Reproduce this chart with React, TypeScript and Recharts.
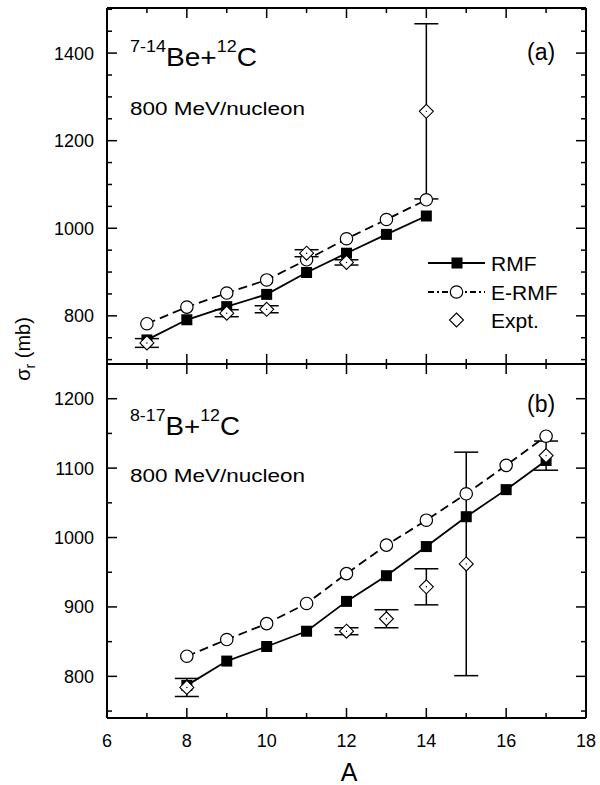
import React from 'react';
import { ComposedChart, Line, Scatter, XAxis, YAxis, ErrorBar } from 'recharts';

const FONT = '"Liberation Sans", Arial, Helvetica, sans-serif';

// (a) 7-14Be + 12C
const beA = [7, 8, 9, 10, 11, 12, 13, 14];
const beRmf = [745, 791, 821, 849, 899, 943, 986, 1028];
const beErmf = [782, 820, 852, 882, 928, 976, 1020, 1065];
const beExptA = [7, 9, 10, 11, 12, 14];
const beExpt = [738, 806, 815, 943, 922, 1267];
const beExptErr = [10, 8, 8, 8, 6, 200];

// (b) 8-17B + 12C
const bA = [8, 9, 10, 11, 12, 13, 14, 15, 16, 17];
const bRmf = [787, 822, 843, 865, 908, 945, 987, 1030, 1069, 1111];
const bErmf = [829, 853, 876, 905, 948, 989, 1025, 1063, 1104, 1146];
const bExptA = [8, 12, 13, 14, 15, 17];
const bExpt = [784, 865, 883, 929, 962, 1118];
const bExptErr = [13, 5, 13, 26, 161, 21];

const xTicks = [6, 7, 8, 9, 10, 11, 12, 13, 14, 15, 16, 17, 18];
const beYTicks = [700, 750, 800, 850, 900, 950, 1000, 1050, 1100, 1150, 1200, 1250, 1300, 1350, 1400, 1450, 1500];
const bYTicks = [750, 800, 850, 900, 950, 1000, 1050, 1100, 1150, 1200, 1250];

const modelRows = (a: number[], rmf: number[], ermf: number[]) =>
  a.map((v, i) => ({ a: v, rmf: rmf[i], ermf: ermf[i] }));
const exptRows = (a: number[], y: number[], e: number[]) =>
  a.map((v, i) => ({ a: v, expt: y[i], err: e[i] }));

const Square = (p: any) => (
  <rect key={`sq-${p.index}`} x={p.cx - 5.5} y={p.cy - 5.5} width={11} height={11} fill="#000" />
);
const Circle = (p: any) => (
  <circle key={`ci-${p.index}`} cx={p.cx} cy={p.cy} r={6.2} fill="#fff" stroke="#000" strokeWidth={1.2} />
);
const Diamond = (p: any) => (
  <g>
    <polygon
      points={`${p.cx},${p.cy - 7} ${p.cx + 7},${p.cy} ${p.cx},${p.cy + 7} ${p.cx - 7},${p.cy}`}
      fill="#fff"
      stroke="#000"
      strokeWidth={1.1}
    />
    <circle cx={p.cx} cy={p.cy} r={0.7} fill="#000" />
  </g>
);

const leftTick = (isMajor: (v: number) => boolean) => (p: any) => {
  const big = isMajor(p.payload.value);
  return (
    <g>
      <line x1={p.x} x2={p.x + (big ? 10 : 5)} y1={p.y} y2={p.y} stroke="#000" strokeWidth={1.5} />
      {big && (
        <text x={p.x - 13} y={p.y} dy="0.36em" textAnchor="end" fontSize={18} fontFamily={FONT} fill="#000">
          {p.payload.value}
        </text>
      )}
    </g>
  );
};
const rightTick = (isMajor: (v: number) => boolean) => (p: any) => (
  <line x1={p.x} x2={p.x - (isMajor(p.payload.value) ? 10 : 5)} y1={p.y} y2={p.y} stroke="#000" strokeWidth={1.5} />
);
const bottomTick = (labels: boolean) => (p: any) => {
  const big = p.payload.value % 2 === 0;
  return (
    <g>
      <line x1={p.x} x2={p.x} y1={p.y} y2={p.y - (big ? 10 : 5)} stroke="#000" strokeWidth={1.5} />
      {labels && big && (
        <text x={p.x} y={p.y + 29} textAnchor="middle" fontSize={18} fontFamily={FONT} fill="#000">
          {p.payload.value}
        </text>
      )}
    </g>
  );
};
const topTick = (p: any) => {
  const big = p.payload.value % 2 === 0;
  return <line x1={p.x} x2={p.x} y1={p.y} y2={p.y + (big ? 10 : 5)} stroke="#000" strokeWidth={1.5} />;
};

const axisLine = { stroke: '#000', strokeWidth: 2 };

type PanelProps = {
  model: { a: number; rmf: number; ermf: number }[];
  expt: { a: number; expt: number; err: number }[];
  domain: [number, number];
  yTicks: number[];
  isMajor: (v: number) => boolean;
  height: number;
  bottom: number;
  xLabels: boolean;
};

const Panel = ({ model, expt, domain, yTicks, isMajor, height, bottom, xLabels }: PanelProps) => (
  <ComposedChart width={600} height={height} data={model} margin={{ top: 7, right: 13, bottom, left: 0 }}>
    <XAxis xAxisId="b" dataKey="a" type="number" domain={[6, 18]} ticks={xTicks} interval={0} allowDataOverflow
      height={1} tickSize={0} tickMargin={0} tickLine={false} axisLine={axisLine} tick={bottomTick(xLabels)} />
    <XAxis xAxisId="t" dataKey="a" type="number" orientation="top" domain={[6, 18]} ticks={xTicks} interval={0}
      allowDataOverflow height={1} tickSize={0} tickMargin={0} tickLine={false} axisLine={axisLine} tick={topTick} />
    <YAxis yAxisId="l" type="number" domain={domain} ticks={yTicks} interval={0} allowDataOverflow width={107}
      tickSize={0} tickMargin={0} tickLine={false} axisLine={axisLine} tick={leftTick(isMajor)} />
    <YAxis yAxisId="r" orientation="right" type="number" domain={domain} ticks={yTicks} interval={0} allowDataOverflow
      width={1} tickSize={0} tickMargin={0} tickLine={false} axisLine={axisLine} tick={rightTick(isMajor)} />
    <Line xAxisId="b" yAxisId="l" type="linear" dataKey="ermf" stroke="#000" strokeWidth={1.8} strokeDasharray="9 5"
      dot={Circle} activeDot={false} isAnimationActive={false} />
    <Line xAxisId="b" yAxisId="l" type="linear" dataKey="rmf" stroke="#000" strokeWidth={1.8}
      dot={Square} activeDot={false} isAnimationActive={false} />
    <Scatter xAxisId="b" yAxisId="l" data={expt} dataKey="expt" shape={Diamond} isAnimationActive={false}>
      <ErrorBar dataKey="err" direction="y" width={12} stroke="#000" strokeWidth={1.5} isAnimationActive={false} />
    </Scatter>
  </ComposedChart>
);

const Title = ({ y, pre, nucleus, len }: { y: number; pre: string; nucleus: string; len: number }) => (
  <text x={130} y={y} fontFamily={FONT} fontSize={25} fill="#000" textLength={len} lengthAdjust="spacingAndGlyphs">
    <tspan fontSize={16} dy={-14.5}>{pre}</tspan>
    <tspan dy={14.5}>{nucleus}+</tspan>
    <tspan fontSize={16} dy={-14.5}>12</tspan>
    <tspan dy={14.5}>C</tspan>
  </text>
);

export default function App() {
  return (
    <div style={{ position: 'absolute', left: 0, top: 0, width: 600, height: 785, background: '#fff' }}>
      <div style={{ position: 'absolute', left: 0, top: 0 }}>
        <Panel model={modelRows(beA, beRmf, beErmf)} expt={exptRows(beExptA, beExpt, beExptErr)}
          domain={[690, 1503]} yTicks={beYTicks} isMajor={(v) => v % 200 === 0} height={372} bottom={7} xLabels={false} />
      </div>
      <div style={{ position: 'absolute', left: 0, top: 356 }}>
        <Panel model={modelRows(bA, bRmf, bErmf)} expt={exptRows(bExptA, bExpt, bExptErr)}
          domain={[740, 1250]} yTicks={bYTicks} isMajor={(v) => v % 100 === 0} height={429} bottom={66} xLabels />
      </div>
      <svg width={600} height={785} style={{ position: 'absolute', left: 0, top: 0, pointerEvents: 'none' }}>
        <Title y={66} pre="7-14" nucleus="Be" len={127} />
        <text x={130} y={115} fontFamily={FONT} fontSize={18} textLength={175} lengthAdjust="spacingAndGlyphs">800 MeV/nucleon</text>
        <text x={527} y={60} fontFamily={FONT} fontSize={23}>(a)</text>
        <Title y={435} pre="8-17" nucleus="B" len={110} />
        <text x={130} y={482} fontFamily={FONT} fontSize={18} textLength={175} lengthAdjust="spacingAndGlyphs">800 MeV/nucleon</text>
        <text x={527} y={412} fontFamily={FONT} fontSize={23}>(b)</text>

        {/* legend */}
        <line x1={428} x2={485} y1={263} y2={263} stroke="#000" strokeWidth={1.8} />
        <rect x={451.5} y={257.5} width={11} height={11} fill="#000" />
        <text x={491} y={271} fontFamily={FONT} fontSize={21}>RMF</text>
        <line x1={428} x2={485} y1={292} y2={292} stroke="#000" strokeWidth={1.8} strokeDasharray="6 3 2 3" />
        <circle cx={456.5} cy={292} r={6.2} fill="#fff" stroke="#000" strokeWidth={1.2} />
        <text x={491} y={300} fontFamily={FONT} fontSize={21}>E-RMF</text>
        <polygon points="456.5,313 463.5,320 456.5,327 449.5,320" fill="#fff" stroke="#000" strokeWidth={1.1} />
        <text x={491} y={328} fontFamily={FONT} fontSize={21}>Expt.</text>

        <text transform="translate(30,349) rotate(-90)" textAnchor="middle" fontFamily={FONT} fontSize={20}>
          σ<tspan fontSize={14} dy={5}>r</tspan><tspan dy={-5}> (mb)</tspan>
        </text>
        <text x={349} y={781} textAnchor="middle" fontFamily={FONT} fontSize={25}>A</text>
      </svg>
    </div>
  );
}
